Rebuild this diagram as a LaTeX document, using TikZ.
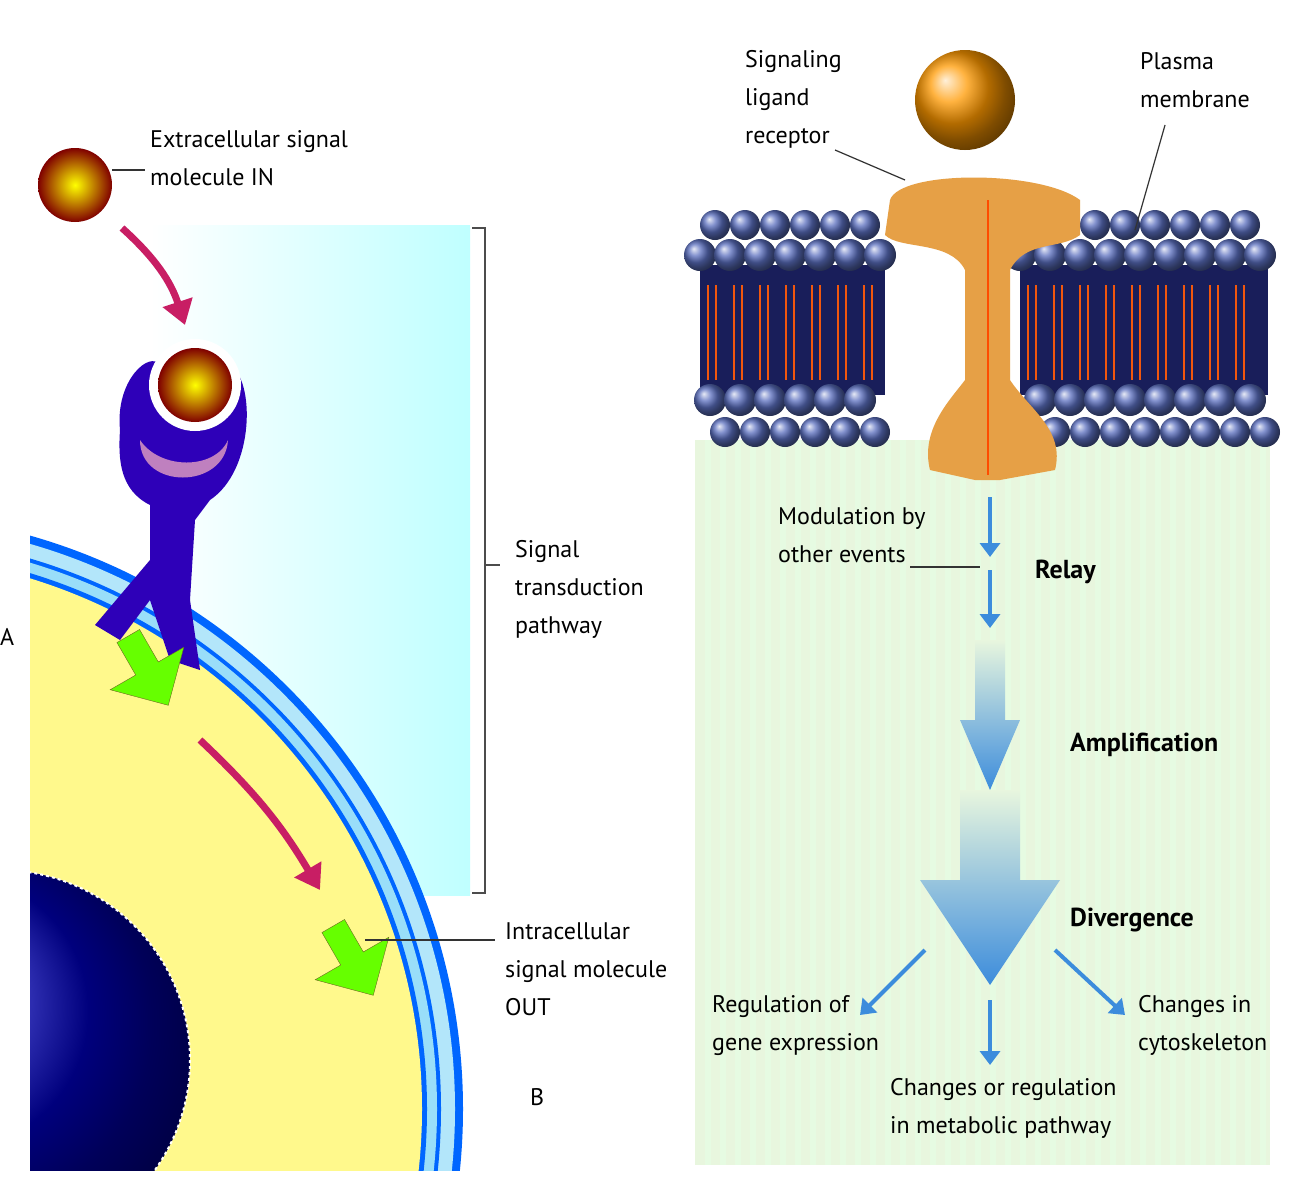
\documentclass[tikz,border=0pt]{standalone}
\usepackage{fontspec}
\setmainfont{PT Sans}
\usetikzlibrary{arrows.meta,shapes.arrows}
\definecolor{navy}{RGB}{25,30,90}
\definecolor{orng}{RGB}{230,160,70}
\definecolor{mag}{RGB}{200,30,100}
\definecolor{arrb}{RGB}{60,140,220}
\definecolor{lgreen}{RGB}{232,246,222}
\definecolor{ballc}{RGB}{90,110,190}
\tikzset{
 lbl/.style={font=\fontsize{24}{38}\selectfont,align=left,anchor=north west,inner sep=0pt},
 blbl/.style={font=\fontsize{26}{38}\selectfont\bfseries,anchor=west,inner sep=0pt},
 lead/.style={draw=black!80,line width=1.2pt},
 magarr/.style={draw=mag,line width=7pt,-{Triangle[length=24pt,width=30pt]}},
 smallarr/.style={draw=arrb,line width=4pt,-{Triangle[length=14pt,width=20pt]}},
 greenarr/.style={single arrow,draw=olive!70!black,fill=green!60!yellow,minimum height=80pt,minimum width=85pt,single arrow head extend=14pt,single arrow tip angle=90,rotate=-60,inner sep=6pt}
}
\begin{document}
\begin{tikzpicture}[x=1pt,y=-1pt]
\useasboundingbox (0,0) rectangle (1297,1200);
\fill[white] (0,0) rectangle (1297,1200);
% ---------- left panel ----------
\shade[left color=white,right color=cyan!25] (150,225) rectangle (470,895);
\begin{scope}
\clip (30,0) rectangle (470,1170);
\fill[blue!60!cyan] (-133,1109) circle (596);
\fill[cyan!30] (-133,1109) circle (588);
\fill[blue!60!cyan] (-133,1109) circle (574);
\fill[cyan!40] (-133,1109) circle (570);
\fill[blue!60!cyan] (-133,1109) circle (560);
\fill[yellow!45] (-133,1109) circle (555);
\shade[ball color=blue!70!black] (0,1060) circle (190);
\draw[white,dashed,line width=2pt] (0,1060) circle (190);
\end{scope}
% molecule IN
\shade[inner color=yellow,outer color=red!50!black] (75,185) circle (37) node (m1) {};
\draw[lead] (112,170) -- (145,170);
\node[lbl] (t1) at (150,130) {Extracellular signal\\molecule IN};
\draw[magarr] (122,228) to[bend left=15] (185,325);
% receptor
\fill[blue!60!violet!90!black] (120,430) .. controls (115,380) and (150,350) .. (160,365)
 .. controls (150,420) and (240,430) .. (230,365) .. controls (255,380) and (255,470) .. (210,500)
 -- (195,520) -- (190,600) -- (200,670) -- (170,660) -- (150,600) -- (120,640) -- (95,625)
 -- (150,560) -- (150,505) .. controls (120,490) and (118,460) .. (120,430) -- cycle;
\fill[violet!50] (140,440) .. controls (160,470) and (215,470) .. (228,440) .. controls (225,490) and (140,490) .. (140,440);
\fill[white] (195,385) circle (46);
\shade[inner color=yellow,outer color=red!50!black] (195,385) circle (37) node (m2) {};
\node[greenarr] (g1) at (145,665) {};
\draw[magarr] (200,740) to[bend left=8] (320,890);
\node[greenarr] (g2) at (350,955) {};
% bracket
\draw[black!70,line width=1.5pt] (472,228) -- (485,228) -- (485,893) -- (472,893);
\draw[black!70,line width=1.5pt] (485,565) -- (500,565);
\node[lbl] (t2) at (515,540) {Signal\\transduction\\pathway};
\draw[lead] (365,940) -- (495,940);
\node[lbl] (t3) at (505,922) {Intracellular\\signal molecule\\OUT};
\node[lbl] (tB) at (530,1088) {B};
\node[lbl] (tA) at (0,628) {A};
% ---------- right panel ----------
\fill[lgreen] (695,440) rectangle (1270,1165);
\foreach \x in {705,720,...,1265} \fill[green!10!white,opacity=.6] (\x,440) rectangle ++(6,725);
\fill[navy] (700,265) rectangle (885,395);
\fill[navy] (1020,265) rectangle (1268,395);
\foreach \x in {712,738,...,880, 1032,1058,...,1265}{
 \draw[red!40!orange!80!brown,line width=1.5pt] (\x-4,285) -- (\x-4,380) (\x+4,285) -- (\x+4,380);}
\foreach \x in {715,745,...,880} {\shade[ball color=ballc] (\x,225) circle (15);}
\foreach \x in {1035,1065,...,1265} {\shade[ball color=ballc] (\x,225) circle (15);}
\foreach \x in {700,730,...,880} {\shade[ball color=ballc] (\x,255) circle (16);}
\foreach \x in {1020,1050,...,1265} {\shade[ball color=ballc] (\x,255) circle (16);}
\foreach \x in {710,740,...,880} {\shade[ball color=ballc] (\x,400) circle (16);}
\foreach \x in {1040,1070,...,1265} {\shade[ball color=ballc] (\x,400) circle (16);}
\foreach \x in {725,755,...,880} {\shade[ball color=ballc] (\x,432) circle (15);}
\foreach \x in {1025,1055,...,1265} {\shade[ball color=ballc] (\x,432) circle (15);}
% receptor
\fill[orng] (890,200) .. controls (900,170) and (1040,170) .. (1080,200) -- (1080,235)
 .. controls (1060,250) and (1025,240) .. (1010,270) -- (1010,380) .. controls (1030,410) and (1065,430) .. (1055,470)
 -- (1000,480) -- (975,480) -- (930,470) .. controls (920,430) and (950,400) .. (965,380)
 -- (965,270) .. controls (950,240) and (900,250) .. (885,235) -- cycle;
\draw[orange!60!red,line width=2pt] (988,200) -- (988,475);
\shade[ball color=orange!80!yellow] (965,100) circle (50) node (lig) {};
\node[lbl] (t4) at (745,50) {Signaling\\ligand\\receptor};
\draw[lead] (835,150) -- (905,180);
\node[lbl] (t5) at (1140,52) {Plasma\\membrane};
\draw[lead] (1165,125) -- (1135,230);
% arrows
\coordinate (a1s) at (990,497); \coordinate (a1e) at (990,557);
\coordinate (a2s) at (990,570); \coordinate (a2e) at (990,628);
\draw[smallarr] (a1s) -- (a1e);
\draw[smallarr] (a2s) -- (a2e);
\node[lbl] (t6) at (778,507) {Modulation by\\other events};
\draw[lead] (910,567) -- (980,567);
\node[blbl] (relay) at (1035,572) {Relay};
\shade[top color=lgreen,bottom color=arrb] (975,640) -- (1005,640) -- (1005,720) -- (1020,720) -- (990,790) -- (960,720) -- (975,720) -- cycle;
\node[blbl] (amp) at (1070,745) {Amplification};
\shade[top color=lgreen,bottom color=arrb] (960,790) -- (1020,790) -- (1020,880) -- (1060,880) -- (990,985) -- (920,880) -- (960,880) -- cycle;
\node[blbl] (div) at (1070,920) {Divergence};
\draw[smallarr] (925,950) -- (860,1015);
\draw[smallarr] (990,1000) -- (990,1065);
\draw[smallarr] (1055,950) -- (1125,1015);
\node[lbl] (t7) at (712,995) {Regulation of\\gene expression};
\node[lbl] (t8) at (890,1078) {Changes or regulation\\in metabolic pathway};
\node[lbl] (t9) at (1138,995) {Changes in\\cytoskeleton};
\end{tikzpicture}
\end{document}
